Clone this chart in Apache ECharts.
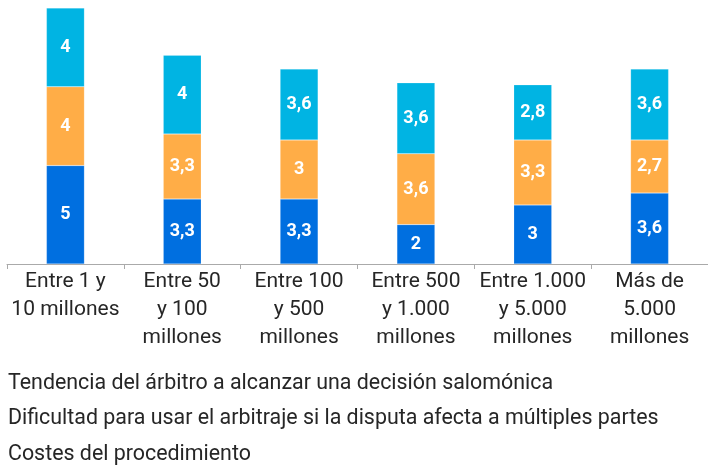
<!DOCTYPE html>
<html>
<head>
<meta charset="utf-8">
<script src="https://cdn.jsdelivr.net/npm/echarts@6/dist/echarts.min.js"></script>
<style>
  html, body { margin: 0; padding: 0; background: #fff; }
  #chart { width: 708px; height: 469px; }
</style>
</head>
<body>
<div id="chart"></div>
<script>
// categorías (tamaño de la disputa)
var categories = [
  "Entre 1 y\n10 millones",
  "Entre 50\ny 100\nmillones",
  "Entre 100\ny 500\nmillones",
  "Entre 500\ny 1.000\nmillones",
  "Entre 1.000\ny 5.000\nmillones",
  "Más de\n5.000\nmillones"
];
var seriesNames = [
  "Costes del procedimiento",
  "Dificultad para usar el arbitraje si la disputa afecta a múltiples partes",
  "Tendencia del árbitro a alcanzar una decisión salomónica"
];
var costes = [5, 3.3, 3.3, 2, 3, 3.6];
var dificultad = [4, 3.3, 3, 3.6, 3.3, 2.7];
var tendencia = [4, 4, 3.6, 3.6, 2.8, 3.6];
var colors = ["#006fe0", "#ffad47", "#00b4e3"];

var myChart = echarts.init(document.getElementById("chart"));

function fmt(p) {
  return String(p.value).replace(".", ",");
}

function makeSeries(name, data, color) {
  return {
    name: name,
    type: "bar",
    stack: "total",
    barWidth: 38,
    data: data,
    itemStyle: { color: color, borderColor: "rgba(255,255,255,0.35)", borderWidth: 0.5 },
    label: {
      show: true,
      position: "inside",
      color: "#fff",
      fontFamily: "Roboto",
      fontWeight: "bold",
      fontSize: 18,
      formatter: fmt
    }
  };
}

var option = {
  animation: false,
  textStyle: { fontFamily: "Roboto" },
  grid: { left: 7, top: 8, width: 702, height: 256 },
  legend: {
    orient: "vertical",
    left: 3,
    top: 373,
    height: 100,
    padding: 0,
    icon: "none",
    itemWidth: 0,
    itemHeight: 20,
    itemGap: 14.5,
    selectedMode: false,
    data: [seriesNames[2], seriesNames[1], seriesNames[0]],
    textStyle: { color: "#262626", fontSize: 21.4, fontFamily: "Roboto" }
  },
  xAxis: {
    type: "category",
    data: categories,
    axisLine: { lineStyle: { color: "#aaa", width: 1 } },
    axisTick: { show: true, length: 5, lineStyle: { color: "#aaa" } },
    axisLabel: {
      color: "#262626",
      fontSize: 21,
      lineHeight: 28,
      margin: 4,
      interval: 0,
      fontFamily: "Roboto"
    }
  },
  yAxis: {
    type: "value",
    min: 0,
    max: 13,
    show: false,
    splitLine: { show: false }
  },
  series: [
    makeSeries(seriesNames[0], costes, colors[0]),
    makeSeries(seriesNames[1], dificultad, colors[1]),
    makeSeries(seriesNames[2], tendencia, colors[2])
  ]
};

myChart.setOption(option);
</script>
</body>
</html>
